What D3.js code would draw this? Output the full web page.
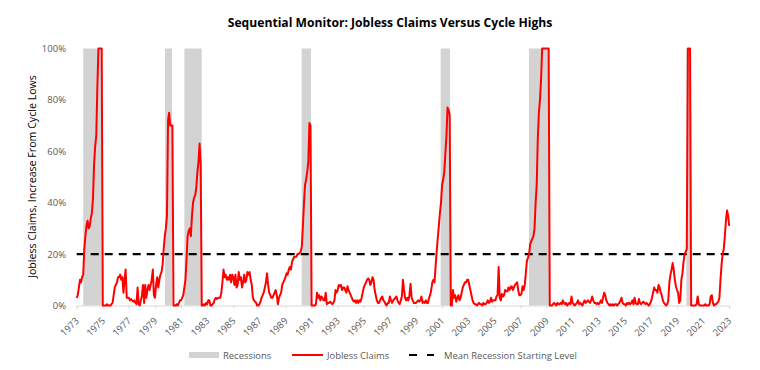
<!DOCTYPE html>
<html><head><meta charset="utf-8">
<script src="https://cdn.jsdelivr.net/npm/d3@7"></script>
<style>body{margin:0;background:#fff}svg{display:block}</style>
</head><body>
<svg id="c" width="760" height="370"></svg>
<script>
// Monthly values (%), Jan 1973 .. Jan 2023
const claims1970s = [
 3,4,7,10,9,11,12,22,27,31,33,30,
 31,34,36,42,55,62,66,85,100,100,100,100,
 0,0,0,0,0.5,0,0,0,0.5,1,4,7,
 8,9,11,11,12,10,11,5,10,14,3,3,
 3,2,2.5,2,1.5,2,1,0.5,7,0.5,0,2,
 4,8,1,8,3,6,8,6,8,10,14,4,
 3,8,11,7,10,12,13,16,22,27,30,35];
const claims1980s = [
 72,75,70,70,70,0,0,0,0.5,0,1,2,
 2,3,4,7,10,18,27,29,30,27,35,40,
 42,43,46,52,56,63,55,0,0,0.5,0,1,
 0.5,2,2,0,0,0.5,1,2.5,3,2.5,3,3,
 3,5,9,14,11,12,10,11,10,12,9,12,
 11,8,12,7,8,13,10,11,7,9,12,9,
 10,13,12,13,10,8,3,2,1.5,1,0,0,
 0.5,1.5,3,4,5,7,9,12.5,8,5,4,3,
 3,4,5,6,4,0.5,3,4,5,8,9,10,
 11,12.5,12,14,15,14,17,18,19,19,19,20];
const claims1990s = [
 20,20.5,21,23,31,40,47,49,52,56,71,70,
 0,0,0,0,0.5,5,3,4,2,3.5,3,2,
 2,5,0.5,1,1,1.5,1,0.5,1,2,6,5,
 6,8,7.5,8,6,7,7,6,5,7.5,6,5,
 4,3,2,1.5,2,1,2,1,2,1.5,3,5,
 7,8,9,10,10.5,10,8,9,11,10,6,4,
 2,1,1,2,3,3.5,2,1.5,0.5,0,1,1,
 3.5,2,1,2,2.5,3,3.5,2,1,0.5,2,3.5,
 10,6,3,2,3,2,4,8.5,3,2,1,1,
 1,1.5,2,1.5,2,3.5,1,1.5,1,2,1,1];
const claims2000s = [
 3,4,6,9,10,9,15,21,26,31,36,40,
 47,49,52,59,66,77,76,74,0,0,6,3,
 4,1.5,3,4,2,3,5,7,8,9,9,10,
 10,8,6,4,2,1,0.5,0.5,0,0.5,1,0.5,
 0.5,0,1,0.5,0.5,1,2,1,1.5,3,1.5,2,
 2,2,3.5,4,15,3,2,4.5,3.5,4,6,5.5,
 5.5,7,6,7,7.5,6,7,8,8.5,9,6,4,
 4,4.5,7.5,6,8,12.5,17.5,18.5,20,24,25,26,
 27,30,40,47,65,75,80,88,100,100,100,100,
 100,100,100,0,0,0,0.5,1,0.5,0,1,0.5];
const claims2010s = [
 0.5,1,0.5,2,1,0.5,1,0,0.5,1,0.5,3.5,
 1,0.5,0,0.5,1,2,0.5,1,0.5,0,1,2,
 1,1.5,2,1.5,1,2,3.5,2,1,1,0.5,1,
 0.5,1,2,1,3,5,4,2,1,0.5,0,0.5,
 0,0.5,0,0.5,0.5,0,0.5,1,2,3,1,0.5,
 0.5,0,1,0.5,1,0.5,1,2,0.5,3,1,0.5,
 0.5,2.5,1,0.5,1,1.5,1,0.5,1,0.5,0,0.5,
 1.5,3,5,7,6,6,5,8,7,5,4,2,
 1,0.5,0,0.5,2,9,12,14,16.5,14,10,7.5,
 6,5,1,2,10,12.5,17,20,21,22,100,100];
const claims2020s = [
 100,0,0,0,0,0,0.5,3.5,0.5,0,0,0,
 0,0,0.5,0,0,0,0.5,3.5,4,1,0,0.5,
 0.5,1,1.5,3,10,16,20,22,27,33,37,35,
 31];
const firstYear = 1973;
const recessionStart = [1973.5, 1979.77, 1981.25, 1990.24, 2000.89, 2007.66, 2019.72];
const recessionEnd   = [1974.92, 1980.3, 1982.58, 1990.95, 2001.61, 2009.19, 2020.0];
const meanStartLevel = 20;
const yTickValues = [0, 20, 40, 60, 80, 100];
const xTickYears = [1973,1975,1977,1979,1981,1983,1985,1987,1989,1991,1993,1995,1997,1999,2001,2003,2005,2007,2009,2011,2013,2015,2017,2019,2021,2023];
const titleText = "Sequential Monitor: Jobless Claims Versus Cycle Highs";
const yTitleText = "Jobless Claims, Increase From Cycle Lows";
const legendLabels = ["Recessions", "Jobless Claims", "Mean Recession Starting Level"];

const claims = [].concat(claims1970s, claims1980s, claims1990s, claims2000s, claims2010s, claims2020s);
const series = claims.map((v, i) => ({t: firstYear + i / 12, v}));

const svg = d3.select("#c");
const font = "'Open Sans', 'Noto Sans', sans-serif";
const grey = "#595959";
const x = d3.scaleLinear().domain([1973, 2023]).range([76.7, 729.2]);
const y = d3.scaleLinear().domain([0, 100]).range([305.5, 48.5]);

function fit(sel, w) {
  const n = sel.node();
  const cur = n.getComputedTextLength();
  const fs = parseFloat(sel.attr("font-size"));
  sel.attr("font-size", fs * w / cur);
}

// title
const t = svg.append("text").attr("x", 390).attr("y", 27).attr("text-anchor", "middle")
  .attr("font-family", font).attr("font-weight", "bold").attr("font-size", 14).attr("fill", "#000").text(titleText);
fit(t, 325);

// recessions
svg.append("g").selectAll("rect").data(recessionStart).join("rect")
  .attr("x", (d) => x(d)).attr("width", (d, i) => x(recessionEnd[i]) - x(d))
  .attr("y", y(100)).attr("height", y(0) - y(100)).attr("fill", "#d3d3d3");

// x axis
const xAxis = d3.axisBottom(x).tickValues(xTickYears).tickSize(3).tickFormat(d3.format("d"));
const gx = svg.append("g").attr("transform", `translate(0,${y(0)})`).call(xAxis);
gx.select(".domain").attr("stroke", "#d9d9d9").attr("stroke-width", 1);
gx.selectAll(".tick line").attr("stroke", "#d9d9d9");
gx.selectAll(".tick text").attr("font-family", font).attr("font-size", 9.5).attr("fill", grey)
  .attr("text-anchor", "end").attr("dy", null).attr("y", 0)
  .attr("transform", "translate(2.5,16) rotate(-45)");

// y axis labels
const yAxis = d3.axisLeft(y).tickValues(yTickValues).tickSize(0).tickFormat(d => d + "%");
const gy = svg.append("g").attr("transform", "translate(69,0)").call(yAxis);
gy.select(".domain").remove();
gy.selectAll(".tick text").attr("font-family", font).attr("font-size", 9.5).attr("fill", grey).attr("x", -3);

// y title
const yt = svg.append("text").attr("transform", `translate(36,176.5) rotate(-90)`).attr("text-anchor", "middle")
  .attr("font-family", font).attr("font-size", 11).attr("fill", "#000").text(yTitleText);
fit(yt, 203);

// mean level dashed line
svg.append("line").attr("x1", x(1973)).attr("x2", x(2023)).attr("y1", y(meanStartLevel)).attr("y2", y(meanStartLevel))
  .attr("stroke", "#000").attr("stroke-width", 2.2).attr("stroke-dasharray", "8,6");

// claims line
svg.append("path").datum(series)
  .attr("d", d3.line().x(d => x(d.t)).y(d => y(d.v)))
  .attr("fill", "none").attr("stroke", "#ff0000").attr("stroke-width", 2).attr("stroke-linejoin", "round");

// legend
const ly = 355;
const lg = svg.append("g");
lg.append("rect").attr("x", 189).attr("y", ly - 3).attr("width", 30).attr("height", 6).attr("fill", "#d3d3d3");
lg.append("line").attr("x1", 292).attr("x2", 323).attr("y1", ly).attr("y2", ly).attr("stroke", "#ff0000").attr("stroke-width", 2);
lg.append("line").attr("x1", 409).attr("x2", 434).attr("y1", ly).attr("y2", ly).attr("stroke", "#000").attr("stroke-width", 2.2).attr("stroke-dasharray", "8,10");
const lx = [223, 327, 444];
const lt = lg.selectAll("text").data(legendLabels).join("text")
  .attr("x", (d, i) => lx[i]).attr("y", ly + 3.5).attr("font-family", font).attr("font-size", 10).attr("fill", grey).text(d => d);
const last = d3.select(lt.nodes()[2]);
fit(last, 133);
lt.attr("font-size", last.attr("font-size"));
</script>
</body></html>
